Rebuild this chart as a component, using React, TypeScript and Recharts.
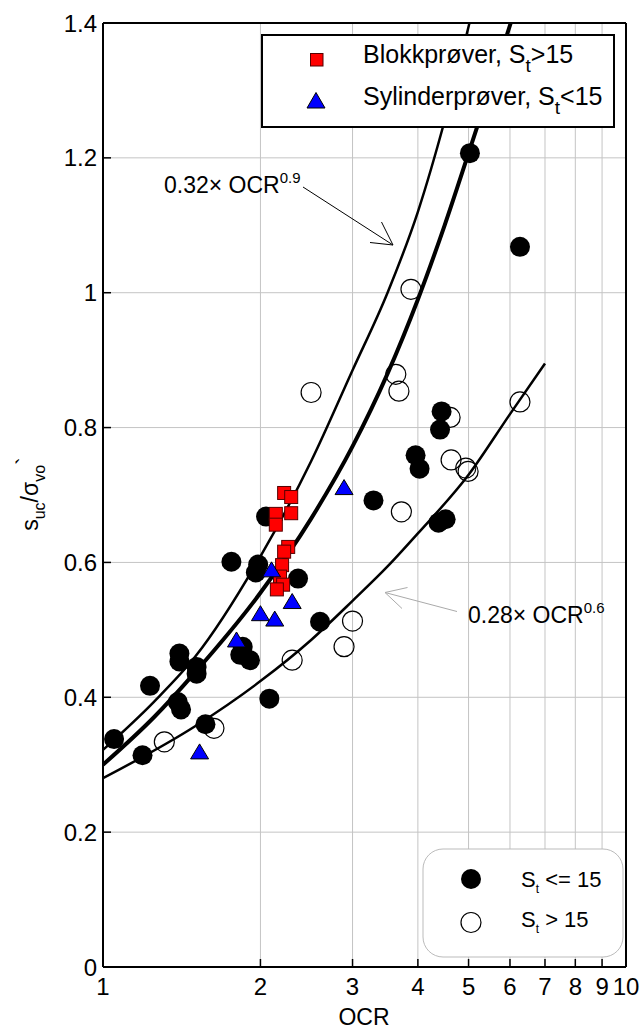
import React from "react";
import { CartesianGrid, ComposedChart, Line, Scatter, XAxis, YAxis } from "recharts";

const FONT = '"Liberation Sans", Arial, Helvetica, sans-serif';

const xTicks = [1, 2, 3, 4, 5, 6, 7, 8, 9, 10];
const yTicks = [0, 0.2, 0.4, 0.6, 0.8, 1, 1.2, 1.4];

// fitted curves
const upperOcr = [1, 1.25, 1.5, 2, 2.5, 3, 3.5, 4, 4.5, 5.02];
const upperRatio = [0.322, 0.393, 0.46, 0.609, 0.75, 0.885, 1.0, 1.12, 1.255, 1.4];

const midOcr = [1, 1.25, 1.5, 2, 2.5, 3, 3.5, 4, 4.5, 5, 5.5, 6.02];
const midRatio = [0.3, 0.37, 0.437, 0.555, 0.665, 0.772, 0.88, 0.99, 1.1, 1.207, 1.305, 1.4];

const lowerOcr = [1, 1.5, 2, 2.5, 3, 3.5, 4, 5, 6, 7];
const lowerRatio = [0.28, 0.357, 0.424, 0.485, 0.543, 0.594, 0.643, 0.73, 0.82, 0.895];

// St <= 15 (filled)
const lowStOcr = [1.05, 1.19, 1.23, 1.4, 1.4, 1.39, 1.41, 1.51, 1.51, 1.57, 1.76, 1.85, 1.83, 1.91, 1.98, 1.96, 2.05, 2.08, 2.36, 2.6, 3.29, 3.96, 4.03, 4.38, 4.52, 4.41, 4.44, 5.03, 6.27];
const lowStRatio = [0.338, 0.314, 0.417, 0.465, 0.453, 0.393, 0.382, 0.445, 0.435, 0.36, 0.601, 0.475, 0.463, 0.455, 0.597, 0.585, 0.668, 0.398, 0.576, 0.512, 0.692, 0.759, 0.739, 0.659, 0.664, 0.797, 0.824, 1.207, 1.068];

// St > 15 (open)
const highStOcr = [1.31, 1.63, 2.3, 2.5, 2.89, 3.0, 3.63, 3.68, 3.72, 3.88, 4.61, 4.63, 4.94, 4.99, 6.27];
const highStRatio = [0.334, 0.354, 0.455, 0.852, 0.475, 0.513, 0.879, 0.854, 0.675, 1.005, 0.815, 0.752, 0.74, 0.735, 0.838];

// Blokkprøver
const blockOcr = [2.22, 2.29, 2.14, 2.29, 2.14, 2.26, 2.22, 2.2, 2.18, 2.21, 2.15];
const blockRatio = [0.703, 0.697, 0.672, 0.673, 0.656, 0.623, 0.616, 0.596, 0.579, 0.567, 0.56];

// Sylinderprøver
const cylOcr = [1.53, 1.8, 2.0, 2.13, 2.1, 2.3, 2.89];
const cylRatio = [0.319, 0.485, 0.524, 0.516, 0.589, 0.542, 0.711];

const toPoints = (xs: number[], ys: number[]) => xs.map((x, i) => ({ x, y: ys[i] }));

const tickStyle = { fontSize: 24, fill: "#000", fontFamily: FONT };
const axisLine = { stroke: "#000", strokeWidth: 2 };
const tickLine = { stroke: "#000", strokeWidth: 1.5 };

const filledDot = (p: any) => <circle cx={p.cx} cy={p.cy} r={10} fill="#000" />;
const openDot = (p: any) => <circle cx={p.cx} cy={p.cy} r={10} fill="none" stroke="#000" strokeWidth={1.2} />;
const square = (p: any) => (
  <rect x={p.cx - 6.5} y={p.cy - 6.5} width={13} height={13} fill="#ff0000" stroke="#500" strokeWidth={1} />
);
const triangle = (p: any) => (
  <polygon
    points={`${p.cx - 9},${p.cy + 7} ${p.cx + 9},${p.cy + 7} ${p.cx},${p.cy - 8}`}
    fill="#0000ff"
    stroke="#000"
    strokeWidth={1}
  />
);

export default function App() {
  return (
    <div style={{ position: "absolute", left: 0, top: 0, width: 640, height: 1030, background: "#fff" }}>
      <ComposedChart width={640} height={1030} margin={{ top: 0, right: 0, bottom: 0, left: 0 }}>
        <CartesianGrid stroke="#c4c4c4" strokeWidth={1} />
        <XAxis
          dataKey="x"
          type="number"
          scale="log"
          domain={[1, 10]}
          ticks={xTicks}
          interval={0}
          allowDataOverflow
          height={63}
          tickSize={-8}
          tickMargin={19}
          axisLine={axisLine}
          tickLine={tickLine}
          tick={tickStyle}
        />
        <XAxis
          xAxisId="top"
          orientation="top"
          dataKey="x"
          type="number"
          scale="log"
          domain={[1, 10]}
          ticks={xTicks}
          interval={0}
          allowDataOverflow
          height={23}
          tickSize={-8}
          axisLine={axisLine}
          tickLine={tickLine}
          tick={false}
        />
        <YAxis
          type="number"
          domain={[0, 1.4]}
          ticks={yTicks}
          interval={0}
          allowDataOverflow
          width={103}
          tickSize={-8}
          tickMargin={14}
          axisLine={axisLine}
          tickLine={tickLine}
          tick={tickStyle}
        />
        <YAxis
          yAxisId="right"
          orientation="right"
          type="number"
          domain={[0, 1.4]}
          ticks={yTicks}
          interval={0}
          allowDataOverflow
          width={14}
          tickSize={-8}
          axisLine={axisLine}
          tickLine={tickLine}
          tick={false}
        />
        <Line data={toPoints(upperOcr, upperRatio)} dataKey="y" type="monotone" stroke="#000" strokeWidth={2.5} dot={false} isAnimationActive={false} />
        <Line data={toPoints(midOcr, midRatio)} dataKey="y" type="monotone" stroke="#000" strokeWidth={4} dot={false} isAnimationActive={false} />
        <Line data={toPoints(lowerOcr, lowerRatio)} dataKey="y" type="monotone" stroke="#000" strokeWidth={2.5} dot={false} isAnimationActive={false} />
        <Scatter data={toPoints(lowStOcr, lowStRatio)} dataKey="y" shape={filledDot} isAnimationActive={false} />
        <Scatter data={toPoints(highStOcr, highStRatio)} dataKey="y" shape={openDot} isAnimationActive={false} />
        <Scatter data={toPoints(blockOcr, blockRatio)} dataKey="y" shape={square} isAnimationActive={false} />
        <Scatter data={toPoints(cylOcr, cylRatio)} dataKey="y" shape={triangle} isAnimationActive={false} />
      </ComposedChart>

      <svg
        width={640}
        height={1030}
        style={{ position: "absolute", left: 0, top: 0, pointerEvents: "none", fontFamily: FONT }}
      >
        {/* upper legend */}
        <rect x={262} y={35} width={352} height={92} fill="#fff" stroke="#000" strokeWidth={2} />
        <rect x={310.5} y={53.5} width={12.5} height={12.5} fill="#ff0000" stroke="#500" strokeWidth={1} />
        <polygon points="307,108 325,108 316,92.5" fill="#0000ff" stroke="#000" strokeWidth={1} />
        <text x={363} y={63} fontSize={25} fill="#000">
          Blokkprøver, S<tspan dy={9} fontSize={19}>t</tspan>
          <tspan dy={-9}>&gt;15</tspan>
        </text>
        <text x={363} y={105} fontSize={25} fill="#000">
          Sylinderprøver, S<tspan dy={9} fontSize={19}>t</tspan>
          <tspan dy={-9}>&lt;15</tspan>
        </text>

        {/* lower legend */}
        <rect x={423} y={849} width={200} height={108} rx={20} fill="#fff" stroke="#bbb" strokeWidth={1} />
        <circle cx={471} cy={879} r={10} fill="#000" />
        <circle cx={471} cy={922.5} r={10} fill="none" stroke="#000" strokeWidth={1.2} />
        <text x={521} y={887} fontSize={22} fill="#000">
          S<tspan dy={6} fontSize={12}>t</tspan>
          <tspan dy={-6}> &lt;= 15</tspan>
        </text>
        <text x={521} y={927} fontSize={22} fill="#000">
          S<tspan dy={6} fontSize={12}>t</tspan>
          <tspan dy={-6}> &gt; 15</tspan>
        </text>

        {/* annotations */}
        <text x={164} y={193} fontSize={23} fill="#000">
          0.32× OCR<tspan dy={-10} fontSize={15}>0.9</tspan>
        </text>
        <line x1={303} y1={187} x2={393} y2={245} stroke="#000" strokeWidth={1} />
        <polyline points="370,242.5 393,245 381.5,222" fill="none" stroke="#000" strokeWidth={1} />

        <text x={468} y={623} fontSize={23} fill="#000">
          0.28× OCR<tspan dy={-10} fontSize={15}>0.6</tspan>
        </text>
        <line x1={457} y1={611.5} x2={385} y2={592.5} stroke="#aaa" strokeWidth={1} />
        <polyline points="407.5,587.5 385,592.5 402,608.5" fill="none" stroke="#aaa" strokeWidth={1} />

        {/* axis titles */}
        <text x={364} y={1025} fontSize={23} fill="#000" textAnchor="middle">OCR</text>
        <text transform="translate(38,494) rotate(-90)" fontSize={23} fill="#000" textAnchor="middle">
          s<tspan dy={7} fontSize={16}>uc</tspan>
          <tspan dy={-7}>/σ</tspan>
          <tspan dy={7} fontSize={16}>vo</tspan>
          <tspan dy={-12}>`</tspan>
        </text>
      </svg>
    </div>
  );
}
